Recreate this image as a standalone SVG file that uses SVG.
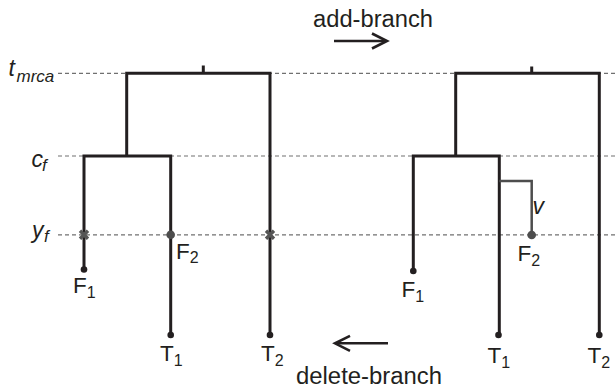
<svg xmlns="http://www.w3.org/2000/svg" width="615" height="388" viewBox="0 0 615 388">
<defs>
<style>
.dash{stroke:#707070;stroke-width:1.2;stroke-dasharray:4 3;fill:none}
.br{stroke:#231f20;stroke-width:3;fill:none;stroke-linejoin:miter}
.nb{stroke:#4d4d4d;stroke-width:2.5;fill:none;stroke-linejoin:miter}
.tip{fill:#231f20}
.fd{fill:#4d4d4d}
.x{stroke:#555555;stroke-width:3.4}
.arr{stroke:#231f20;stroke-width:2.6;fill:none}
text{font-family:"Liberation Sans",Arial,sans-serif;fill:#231f20}
.lbl{font-size:22.5px}
.sub{font-size:16px}
.ax{font-size:23px;font-style:italic}
.axs{font-size:17px;font-style:italic}
.op{font-size:23px}
</style>
</defs>
<rect width="615" height="388" fill="#ffffff"/>

<g id="axis">
<line class="dash" x1="58" y1="73.3" x2="615" y2="73.3"/>
<line class="dash" x1="58" y1="156" x2="615" y2="156"/>
<line class="dash" x1="58" y1="234.8" x2="615" y2="234.8"/>
<text class="ax" x="8.5" y="75.5">t</text><text class="axs" x="16.5" y="82">mrca</text>
<text class="ax" x="31.5" y="166.5">c</text><text class="axs" x="42" y="170.5">f</text>
<text class="ax" x="32" y="237.5">y</text><text class="axs" x="44" y="241.5">f</text>
</g>

<g id="connectors">
<path class="br" d="M203.3,65.5 V73.3"/>
<path class="br" d="M126.7,156 V73.3 H270 V335"/>
<path class="br" d="M84,269.5 V156 H170.7 V335"/>
<path class="br" d="M531.7,66.5 V73.3"/>
<path class="br" d="M455.7,156 V73.3 H599.3 V335"/>
<path class="br" d="M413.3,271 V156 H499.3 V335"/>
<path class="nb" d="M499.3,181 H531.7 V235"/>
</g>

<g id="left-F1">
<circle class="tip" cx="84" cy="269.5" r="3.3"/>
<path class="x" d="M80,230.8 L88,238.8 M88,230.8 L80,238.8"/>
<text class="lbl" x="73" y="292.5">F<tspan class="sub" dy="5">1</tspan></text>
</g>
<g id="left-F2">
<circle class="fd" cx="170.7" cy="234.8" r="4.3"/>
<text class="lbl" x="176" y="258.5">F<tspan class="sub" dy="4">2</tspan></text>
</g>
<g id="left-T1">
<circle class="tip" cx="170.7" cy="335" r="3.3"/>
<text class="lbl" x="160" y="360.5">T<tspan class="sub" dy="5">1</tspan></text>
</g>
<g id="left-T2">
<circle class="tip" cx="270" cy="335" r="3.3"/>
<path class="x" d="M266,230.8 L274,238.8 M274,230.8 L266,238.8"/>
<text class="lbl" x="261" y="360.5">T<tspan class="sub" dy="5">2</tspan></text>
</g>

<g id="right-F1">
<circle class="tip" cx="413.3" cy="271" r="3.3"/>
<text class="lbl" x="401.5" y="297">F<tspan class="sub" dy="5">1</tspan></text>
</g>
<g id="right-F2">
<circle class="fd" cx="531.7" cy="235" r="4.3"/>
<text class="lbl" x="517.5" y="260.5">F<tspan class="sub" dy="5">2</tspan></text>
<text class="ax" x="532.5" y="213.5">v</text>
</g>
<g id="right-T1">
<circle class="tip" cx="498.5" cy="335" r="3.3"/>
<text class="lbl" x="487.5" y="362.5">T<tspan class="sub" dy="5">1</tspan></text>
</g>
<g id="right-T2">
<circle class="tip" cx="599.3" cy="335" r="3.3"/>
<text class="lbl" x="587.5" y="362.5">T<tspan class="sub" dy="5">2</tspan></text>
</g>

<g id="add-branch">
<text class="op" x="313" y="27" textLength="120" lengthAdjust="spacingAndGlyphs">add-branch</text>
<path class="arr" d="M334,41 H386"/>
<path class="arr" d="M372,33.5 L387,41 L372,48.5"/>
</g>
<g id="delete-branch">
<text class="op" x="296" y="384" textLength="146" lengthAdjust="spacingAndGlyphs">delete-branch</text>
<path class="arr" d="M336,343.3 H388"/>
<path class="arr" d="M350,335.8 L335,343.3 L350,350.8"/>
</g>
</svg>
